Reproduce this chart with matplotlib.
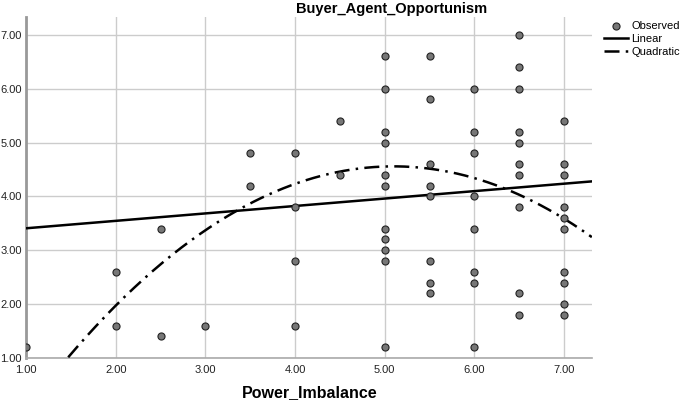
import numpy as np
import matplotlib.pyplot as plt

plt.rcParams['font.family'] = ['Liberation Sans', 'DejaVu Sans']

# Observed points, grouped by Power_Imbalance value
power_levels = [1.0, 2.0, 2.5, 3.0, 3.5, 4.0, 4.5, 5.0, 5.5, 6.0, 6.5, 7.0]
opportunism = [
    [1.2],
    [2.6, 1.6],
    [3.4, 1.4],
    [1.6],
    [4.8, 4.2],
    [4.8, 3.8, 2.8, 1.6],
    [5.4, 4.4],
    [6.6, 6.0, 5.2, 5.0, 4.4, 4.2, 3.4, 3.2, 3.0, 2.8, 1.2],
    [6.6, 5.8, 4.6, 4.2, 4.0, 2.8, 2.4, 2.2],
    [6.0, 5.2, 4.8, 4.0, 3.4, 2.6, 2.4, 1.2],
    [7.0, 6.4, 6.0, 5.2, 5.0, 4.6, 4.4, 3.8, 2.2, 1.8],
    [5.4, 4.6, 4.4, 3.8, 3.6, 3.4, 2.6, 2.4, 2.0, 1.8],
]

# fitted curves (highest power first)
linear_coef = [0.138, 3.27]
quad_coef = [-0.269, 2.744, -2.44]

x_obs = np.concatenate([[p] * len(v) for p, v in zip(power_levels, opportunism)])
y_obs = np.concatenate(opportunism)

fig = plt.figure(figsize=(6.85, 4.03), dpi=100)
ax = fig.add_axes([0.038, 0.1117, 0.826, 0.846])

xx = np.linspace(1.0, 7.31, 300)
ax.grid(True, color='#cccccc', linewidth=1.0, zorder=0)
ax.set_axisbelow(True)

lin, = ax.plot(xx, np.polyval(linear_coef, xx), color='black', linewidth=1.8, zorder=3, label='Linear')
quad, = ax.plot(xx, np.polyval(quad_coef, xx), color='black', linewidth=1.8,
                linestyle=(0, (6, 2.5, 1, 2.5)), zorder=3, label='Quadratic')
obs = ax.scatter(x_obs, y_obs, s=26, color='#777777', edgecolor='#222222', linewidth=0.8,
                 zorder=4, label='Observed')

ax.set_xlim(1.0, 7.31)
ax.set_ylim(1.0, 7.33)
ax.set_xticks(np.arange(1, 8))
ax.set_yticks(np.arange(1, 8))
ax.set_xticklabels(['%.2f' % v for v in range(1, 8)])
ax.set_yticklabels(['%.2f' % v for v in range(1, 8)])
ax.tick_params(length=0, labelsize=8, colors='#222222', pad=3)
ax.tick_params(axis='x', pad=5)

ax.spines['top'].set_visible(False)
ax.spines['right'].set_visible(False)
ax.spines['left'].set_color('#999999')
ax.spines['left'].set_linewidth(2)
ax.spines['bottom'].set_color('#aaaaaa')
ax.spines['bottom'].set_linewidth(1.2)

fig.text(0.571, 0.995, 'Buyer_Agent_Opportunism', ha='center', va='top',
         fontsize=10.5, fontweight='bold')
fig.text(0.452, 0.025, 'Power_Imbalance', ha='center', va='center',
         fontsize=11.5, fontweight='bold')

fig.legend(handles=[obs, lin, quad], loc='upper left', bbox_to_anchor=(0.875, 0.958),
           frameon=False, fontsize=8, handlelength=2.2, handletextpad=0.3,
           labelspacing=0.25, borderaxespad=0)

fig.savefig('out.png', dpi=100)
